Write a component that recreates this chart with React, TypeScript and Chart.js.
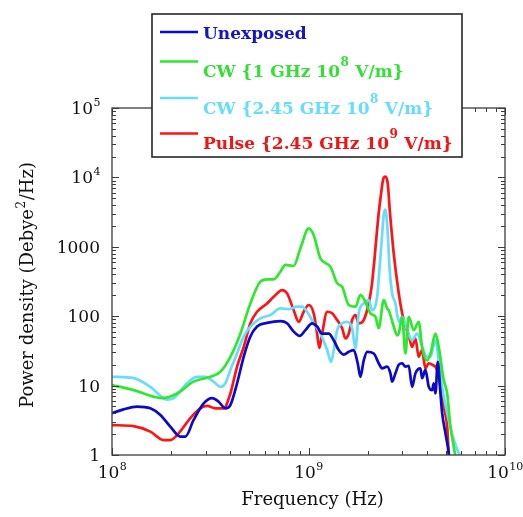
import React, { useEffect, useRef } from "react";
import { Chart, registerables } from "chart.js";

Chart.register(...registerables);

// ---------- data (frequency in GHz, power density in Debye^2/Hz) ----------
const unexposedFreqGHz = [0.1, 0.1146, 0.134, 0.1567, 0.1762, 0.1981, 0.2227, 0.2362, 0.2603, 0.2928, 0.323, 0.349, 0.3775, 0.4003, 0.433, 0.4679, 0.5061, 0.5474, 0.6155, 0.7192, 0.778, 0.8407, 0.9021, 0.9643, 1.043, 1.106, 1.173, 1.268, 1.344, 1.425, 1.511, 1.602, 1.699, 1.78, 1.837, 1.91, 1.988, 2.148, 2.277, 2.369, 2.512, 2.612, 2.664, 2.769, 2.879, 2.996, 3.114, 3.237, 3.368, 3.5, 3.711, 3.786, 3.936, 4.093, 4.258, 4.339, 4.427, 4.547, 4.694, 4.788, 4.977, 5.174, 5.2];
const unexposedPower = [4.0, 4.55, 4.97, 4.7, 3.77, 2.56, 1.84, 1.84, 3.2, 5.55, 6.6, 5.85, 4.7, 5.25, 10.8, 26, 51, 71, 80, 85, 79, 60, 52, 63, 79, 71, 56, 56, 45, 32.5, 28, 30.7, 32.5, 21, 13.4, 23, 30.7, 29, 21, 17.7, 18.8, 15, 11.4, 15, 20, 21, 18.8, 19.2, 9.6, 15, 17.7, 12.8, 16.8, 9.6, 8.6, 10.8, 7.7, 22, 7.7, 4.0, 2.05, 1.05, 0.9];

const cw1FreqGHz = [0.1, 0.1288, 0.1797, 0.2143, 0.2603, 0.3166, 0.356, 0.4003, 0.45, 0.5061, 0.5689, 0.6155, 0.665, 0.7192, 0.7627, 0.8407, 0.9095, 1.0023, 1.063, 1.15, 1.293, 1.399, 1.483, 1.602, 1.733, 1.837, 1.949, 2.066, 2.191, 2.277, 2.415, 2.512, 2.56, 2.715, 2.826, 2.879, 2.996, 3.114, 3.237, 3.431, 3.638, 3.786, 4.015, 4.175, 4.427, 4.601, 4.879, 5.078, 5.278, 5.487, 5.598];
const cw1Power = [10.2, 8.6, 6.6, 7.7, 11.4, 13.4, 15.8, 26, 56, 153, 315, 340, 340, 437, 550, 530, 950, 1840, 1470, 682, 516, 298, 265, 145, 137, 203, 161, 110, 98, 67, 171, 130, 122, 71, 53, 56, 98, 29, 98, 63, 83, 36, 23, 29, 56, 36, 12, 7.7, 2.56, 1.3, 0.95];

const cw245FreqGHz = [0.1, 0.1288, 0.1567, 0.1905, 0.2059, 0.2409, 0.2709, 0.2985, 0.3291, 0.356, 0.3775, 0.4003, 0.433, 0.4679, 0.5061, 0.5689, 0.6397, 0.7192, 0.7929, 0.875, 0.9278, 0.9838, 1.063, 1.15, 1.244, 1.303, 1.344, 1.399, 1.483, 1.572, 1.667, 1.733, 1.801, 1.91, 2.025, 2.108, 2.235, 2.29, 2.36, 2.415, 2.46, 2.52, 2.59, 2.664, 2.769, 2.879, 2.996, 3.177, 3.368, 3.57, 3.786, 4.015, 4.175, 4.427, 4.601, 4.788, 5.078, 5.385, 5.711, 5.936];
const cw245Power = [13.4, 12.8, 9.6, 6.3, 6.6, 10.8, 13.4, 13.4, 11.4, 9.6, 10.8, 16.8, 29, 51, 71, 93, 104, 130, 126, 137, 137, 116, 79, 56, 32.5, 22, 32.5, 63, 79, 83, 67, 34.5, 110, 153, 171, 122, 190, 420, 1300, 2900, 3430, 1900, 460, 213, 153, 83, 98, 63, 45, 56, 36, 26, 26, 45, 23, 9.6, 4, 2, 1.2, 0.95];

const pulseFreqGHz = [0.1, 0.1288, 0.1567, 0.1831, 0.1981, 0.2183, 0.2504, 0.2816, 0.3045, 0.3357, 0.37, 0.4003, 0.433, 0.4679, 0.5061, 0.5474, 0.6155, 0.665, 0.7338, 0.778, 0.8407, 0.8916, 0.9454, 1.0023, 1.063, 1.106, 1.136, 1.173, 1.244, 1.319, 1.399, 1.483, 1.541, 1.602, 1.667, 1.733, 1.801, 1.91, 2.025, 2.1, 2.17, 2.25, 2.33, 2.41, 2.46, 2.53, 2.6, 2.715, 2.879, 2.996, 3.114, 3.237, 3.368, 3.5, 3.638, 3.786, 3.936, 4.093, 4.258, 4.516, 4.694, 4.879, 5.078, 5.174, 5.25];
const pulsePower = [2.7, 2.6, 2.17, 1.64, 1.64, 2.05, 3.4, 4.7, 5.1, 4.7, 4.7, 7.7, 18.8, 36, 79, 116, 153, 190, 238, 213, 122, 83, 116, 145, 110, 56, 35, 56, 116, 110, 88, 67, 48, 56, 88, 104, 79, 88, 153, 280, 700, 2200, 5300, 9800, 10230, 8200, 3000, 800, 215, 110, 71, 53, 36, 48, 26, 32.5, 17.7, 21, 20, 16.8, 9.6, 5, 2.56, 1.05, 0.9];

const seriesColors = ["#0a0ac8", "#2ee82e", "#66dcff", "#ff1414"];
const legendTextColors = ["#1414c8", "#33e033", "#66dcff", "#f01414"];

// legend texts: [normal, superscript, normal]
const legendTexts = [
  ["Unexposed", "", ""],
  ["CW {1 GHz 10", "8", " V/m}"],
  ["CW {2.45 GHz 10", "8", " V/m}"],
  ["Pulse {2.45 GHz 10", "9", " V/m}"],
];

const xMajorTicks = [1e8, 1e9, 1e10];
const xTickLabels = [["10", "8"], ["10", "9"], ["10", "10"]];
const yMajorTicks = [1, 10, 100, 1000, 10000, 100000];
const yTickLabels = [["1", ""], ["10", ""], ["100", ""], ["1000", ""], ["10", "4"], ["10", "5"]];

const xTitle = "Frequency (Hz)";
const yTitleParts = ["Power density (Debye", "2", "/Hz)"];

const FONT = "'DejaVu Serif', serif";

function toPoints(f: number[], p: number[]) {
  return f.map((g, i) => ({ x: g * 1e9, y: p[i] }));
}

function supWidth(ctx: CanvasRenderingContext2D, base: string, sup: string, rest: string, font: string, supFont: string) {
  ctx.font = font;
  let w = ctx.measureText(base).width + ctx.measureText(rest).width;
  ctx.font = supFont;
  w += sup ? ctx.measureText(sup).width : 0;
  return w;
}

function drawSup(ctx: CanvasRenderingContext2D, x: number, y: number, base: string, sup: string, rest: string, font: string, supFont: string, rise: number) {
  ctx.textAlign = "left";
  ctx.font = font;
  ctx.fillText(base, x, y);
  let cx = x + ctx.measureText(base).width;
  if (sup) {
    ctx.font = supFont;
    ctx.fillText(sup, cx + 0.5, y - rise);
    cx += ctx.measureText(sup).width + 1;
  }
  ctx.font = font;
  if (rest) ctx.fillText(rest, cx, y);
}

const framePlugin = {
  id: "framePlugin",
  afterDatasetsDraw(chart: any) {
    const { ctx, chartArea: a, scales } = chart;
    const xs = scales.x;
    const ys = scales.y;
    ctx.save();
    ctx.strokeStyle = "#3c3c3c";
    ctx.lineWidth = 1.3;
    ctx.strokeRect(a.left, a.top, a.right - a.left, a.bottom - a.top);

    // tick marks (inward, all four sides)
    ctx.lineWidth = 1;
    ctx.beginPath();
    for (let d = 8; d <= 10; d++) {
      for (let m = 1; m <= 9; m++) {
        const v = m * Math.pow(10, d);
        if (v > 1e10 || (d === 10 && m > 1)) break;
        const px = Math.round(xs.getPixelForValue(v)) + 0.5;
        const len = m === 1 ? 7 : 4;
        ctx.moveTo(px, a.bottom);
        ctx.lineTo(px, a.bottom - len);
        ctx.moveTo(px, a.top);
        ctx.lineTo(px, a.top + len);
      }
    }
    for (let d = 0; d <= 5; d++) {
      for (let m = 1; m <= 9; m++) {
        const v = m * Math.pow(10, d);
        if (d === 5 && m > 1) break;
        const py = Math.round(ys.getPixelForValue(v)) + 0.5;
        const len = m === 1 ? 7 : 4;
        ctx.moveTo(a.left, py);
        ctx.lineTo(a.left + len, py);
        ctx.moveTo(a.right, py);
        ctx.lineTo(a.right - len, py);
      }
    }
    ctx.stroke();

    // tick labels
    const tf = `17px ${FONT}`;
    const sf = `11px ${FONT}`;
    ctx.fillStyle = "#111";
    ctx.textBaseline = "alphabetic";
    yMajorTicks.forEach((v, i) => {
      const [b, s] = yTickLabels[i];
      const py = ys.getPixelForValue(v);
      const w = supWidth(ctx, b, s, "", tf, sf);
      drawSup(ctx, a.left - 12 - w, py + 6, b, s, "", tf, sf, 8);
    });
    xMajorTicks.forEach((v, i) => {
      const [b, s] = xTickLabels[i];
      const px = xs.getPixelForValue(v);
      const w = supWidth(ctx, b, s, "", tf, sf);
      drawSup(ctx, px - w / 2, a.bottom + 23, b, s, "", tf, sf, 8);
    });

    // axis titles
    const titleFont = `18px ${FONT}`;
    ctx.font = titleFont;
    ctx.textAlign = "center";
    ctx.fillText(xTitle, (a.left + a.right) / 2 + 4, a.bottom + 50);
    ctx.save();
    ctx.translate(33, (a.top + a.bottom) / 2 + 4);
    ctx.rotate(-Math.PI / 2);
    const ytw = supWidth(ctx, yTitleParts[0], yTitleParts[1], yTitleParts[2], titleFont, `12px ${FONT}`);
    drawSup(ctx, -ytw / 2, 0, yTitleParts[0], yTitleParts[1], yTitleParts[2], titleFont, `12px ${FONT}`, 8);
    ctx.restore();

    // legend box
    const lx = 152, ly = 14, lw = 310, lh = 143;
    ctx.fillStyle = "#ffffff";
    ctx.fillRect(lx, ly, lw, lh);
    ctx.strokeStyle = "#262626";
    ctx.lineWidth = 1.6;
    ctx.strokeRect(lx, ly, lw, lh);
    const lineYs = [32, 61.5, 98, 133.5];
    const textYs = [38.5, 77, 113.5, 148.5];
    const lf = `bold 17px ${FONT}`;
    const lsf = `bold 12px ${FONT}`;
    legendTexts.forEach((parts, i) => {
      ctx.strokeStyle = seriesColors[i];
      ctx.lineWidth = 2.5;
      ctx.beginPath();
      ctx.moveTo(160, lineYs[i]);
      ctx.lineTo(198, lineYs[i]);
      ctx.stroke();
      ctx.fillStyle = legendTextColors[i];
      drawSup(ctx, 203, textYs[i], parts[0], parts[1], parts[2], lf, lsf, 11);
    });
    ctx.restore();
  },
};

export default function App() {
  const canvasRef = useRef<HTMLCanvasElement | null>(null);

  useEffect(() => {
    const canvas = canvasRef.current;
    if (!canvas) return;
    const mk = (label: string, f: number[], p: number[], color: string) => ({
      label,
      data: toPoints(f, p),
      borderColor: color,
      backgroundColor: color,
      borderWidth: 2.7,
      pointRadius: 0,
      fill: false,
      cubicInterpolationMode: "monotone" as const,
    });
    const chart = new Chart(canvas, {
      type: "line",
      data: {
        datasets: [
          mk(legendTexts[0].join(""), unexposedFreqGHz, unexposedPower, seriesColors[0]),
          mk(legendTexts[1].join(""), cw1FreqGHz, cw1Power, seriesColors[1]),
          mk(legendTexts[2].join(""), cw245FreqGHz, cw245Power, seriesColors[2]),
          mk(legendTexts[3].join(""), pulseFreqGHz, pulsePower, seriesColors[3]),
        ],
      },
      options: {
        animation: false,
        responsive: false,
        devicePixelRatio: 1,
        layout: { padding: { left: 112, top: 108, right: 18, bottom: 62 } },
        scales: {
          x: { type: "logarithmic", min: 1e8, max: 1e10, display: false },
          y: { type: "logarithmic", min: 1, max: 1e5, display: false },
        },
        plugins: {
          legend: { display: false },
          tooltip: { enabled: false },
        },
        events: [],
      },
      plugins: [framePlugin],
    });
    return () => chart.destroy();
  }, []);

  return (
    <div style={{ position: "fixed", left: 0, top: 0, width: 523, height: 517, background: "#fff" }}>
      <canvas ref={canvasRef} width={523} height={517} style={{ display: "block" }} />
    </div>
  );
}
